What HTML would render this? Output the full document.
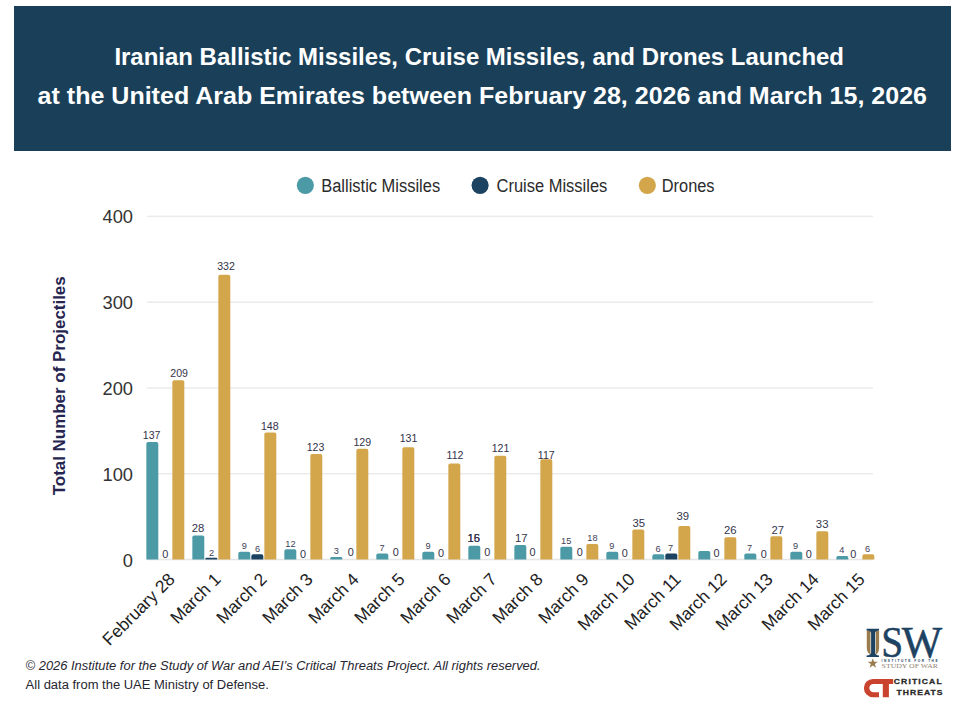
<!DOCTYPE html>
<html><head><meta charset="utf-8">
<style>
html,body{margin:0;padding:0;background:#fff;}
body{width:960px;height:708px;overflow:hidden;position:relative;font-family:"Liberation Sans",sans-serif;}
svg{position:absolute;left:0;top:0;font-family:"Liberation Sans",sans-serif;}
</style></head><body>
<svg width="960" height="708" viewBox="0 0 960 708">
<rect x="14" y="6" width="937" height="145" fill="#1a4059"/>
<text x="114.4" y="65" font-size="23" font-weight="bold" fill="#ffffff" textLength="729.6" lengthAdjust="spacingAndGlyphs">Iranian Ballistic Missiles, Cruise Missiles, and Drones Launched</text>
<text x="37.6" y="104.4" font-size="23" font-weight="bold" fill="#ffffff" textLength="889.4" lengthAdjust="spacingAndGlyphs">at the United Arab Emirates between February 28, 2026 and March 15, 2026</text>
<!-- legend -->
<circle cx="305.35" cy="185.35" r="8.55" fill="#4b9aa6"/>
<text x="321.2" y="192.3" font-size="18" fill="#2b2b2b" textLength="119" lengthAdjust="spacingAndGlyphs">Ballistic Missiles</text>
<circle cx="480.1" cy="185.35" r="8.55" fill="#1b4260"/>
<text x="496.6" y="192.3" font-size="18" fill="#2b2b2b" textLength="110.7" lengthAdjust="spacingAndGlyphs">Cruise Missiles</text>
<circle cx="647.35" cy="185.35" r="8.55" fill="#d4a64c"/>
<text x="661.8" y="192.3" font-size="18" fill="#2b2b2b" textLength="52.7" lengthAdjust="spacingAndGlyphs">Drones</text>
<!-- y title -->
<text transform="translate(64.6,495.3) rotate(-90)" x="0" y="0" font-size="17" font-weight="bold" fill="#25254f" textLength="219" lengthAdjust="spacingAndGlyphs">Total Number of Projectiles</text>
<rect x="147" y="472.97" width="726" height="1.5" fill="#ebebeb"/>
<rect x="147" y="387.19" width="726" height="1.5" fill="#ebebeb"/>
<rect x="147" y="301.41" width="726" height="1.5" fill="#ebebeb"/>
<rect x="147" y="215.63" width="726" height="1.5" fill="#ebebeb"/>
<rect x="147" y="558.75" width="726" height="1.5" fill="#e6e6e6"/>
<text x="133" y="566.50" text-anchor="end" font-size="18.3" fill="#333333">0</text>
<text x="133" y="480.72" text-anchor="end" font-size="18.3" fill="#333333">100</text>
<text x="133" y="394.94" text-anchor="end" font-size="18.3" fill="#333333">200</text>
<text x="133" y="309.16" text-anchor="end" font-size="18.3" fill="#333333">300</text>
<text x="133" y="223.38" text-anchor="end" font-size="18.3" fill="#333333">400</text>
<path d="M146.35,559.50 V443.78 Q146.35,441.98 148.15,441.98 H156.50 Q158.30,441.98 158.30,443.78 V559.50 Z" fill="#4b9aa6"/>

<path d="M172.35,559.50 V382.02 Q172.35,380.22 174.15,380.22 H182.50 Q184.30,380.22 184.30,382.02 V559.50 Z" fill="#d4a64c"/>
<text transform="translate(175.92,580.3) rotate(-45)" text-anchor="end" font-size="17.4" fill="#222222" x="0" y="0">February 28</text>
<path d="M192.35,559.50 V537.28 Q192.35,535.48 194.15,535.48 H202.50 Q204.30,535.48 204.30,537.28 V559.50 Z" fill="#4b9aa6"/>
<path d="M205.35,559.50 V558.64 Q205.35,557.78 206.21,557.78 H216.44 Q217.30,557.78 217.30,558.64 V559.50 Z" fill="#1b4260"/>
<path d="M218.35,559.50 V276.51 Q218.35,274.71 220.15,274.71 H228.50 Q230.30,274.71 230.30,276.51 V559.50 Z" fill="#d4a64c"/>
<text transform="translate(221.92,580.3) rotate(-45)" text-anchor="end" font-size="17.4" fill="#222222" x="0" y="0">March 1</text>
<path d="M238.35,559.50 V553.58 Q238.35,551.78 240.15,551.78 H248.50 Q250.30,551.78 250.30,553.58 V559.50 Z" fill="#4b9aa6"/>
<path d="M251.35,559.50 V556.15 Q251.35,554.35 253.15,554.35 H261.50 Q263.30,554.35 263.30,556.15 V559.50 Z" fill="#1b4260"/>
<path d="M264.35,559.50 V434.35 Q264.35,432.55 266.15,432.55 H274.50 Q276.30,432.55 276.30,434.35 V559.50 Z" fill="#d4a64c"/>
<text transform="translate(267.93,580.3) rotate(-45)" text-anchor="end" font-size="17.4" fill="#222222" x="0" y="0">March 2</text>
<path d="M284.35,559.50 V551.01 Q284.35,549.21 286.15,549.21 H294.50 Q296.30,549.21 296.30,551.01 V559.50 Z" fill="#4b9aa6"/>

<path d="M310.35,559.50 V455.79 Q310.35,453.99 312.15,453.99 H320.50 Q322.30,453.99 322.30,455.79 V559.50 Z" fill="#d4a64c"/>
<text transform="translate(313.93,580.3) rotate(-45)" text-anchor="end" font-size="17.4" fill="#222222" x="0" y="0">March 3</text>
<path d="M330.35,559.50 V558.21 Q330.35,556.93 331.64,556.93 H341.01 Q342.30,556.93 342.30,558.21 V559.50 Z" fill="#4b9aa6"/>

<path d="M356.35,559.50 V450.64 Q356.35,448.84 358.15,448.84 H366.50 Q368.30,448.84 368.30,450.64 V559.50 Z" fill="#d4a64c"/>
<text transform="translate(359.93,580.3) rotate(-45)" text-anchor="end" font-size="17.4" fill="#222222" x="0" y="0">March 4</text>
<path d="M376.35,559.50 V555.30 Q376.35,553.50 378.15,553.50 H386.50 Q388.30,553.50 388.30,555.30 V559.50 Z" fill="#4b9aa6"/>

<path d="M402.35,559.50 V448.93 Q402.35,447.13 404.15,447.13 H412.50 Q414.30,447.13 414.30,448.93 V559.50 Z" fill="#d4a64c"/>
<text transform="translate(405.93,580.3) rotate(-45)" text-anchor="end" font-size="17.4" fill="#222222" x="0" y="0">March 5</text>
<path d="M422.35,559.50 V553.58 Q422.35,551.78 424.15,551.78 H432.50 Q434.30,551.78 434.30,553.58 V559.50 Z" fill="#4b9aa6"/>

<path d="M448.35,559.50 V465.23 Q448.35,463.43 450.15,463.43 H458.50 Q460.30,463.43 460.30,465.23 V559.50 Z" fill="#d4a64c"/>
<text transform="translate(451.93,580.3) rotate(-45)" text-anchor="end" font-size="17.4" fill="#222222" x="0" y="0">March 6</text>
<path d="M468.35,559.50 V547.58 Q468.35,545.78 470.15,545.78 H478.50 Q480.30,545.78 480.30,547.58 V559.50 Z" fill="#4b9aa6"/>

<path d="M494.35,559.50 V457.51 Q494.35,455.71 496.15,455.71 H504.50 Q506.30,455.71 506.30,457.51 V559.50 Z" fill="#d4a64c"/>
<text transform="translate(497.93,580.3) rotate(-45)" text-anchor="end" font-size="17.4" fill="#222222" x="0" y="0">March 7</text>
<path d="M514.35,559.50 V546.72 Q514.35,544.92 516.15,544.92 H524.50 Q526.30,544.92 526.30,546.72 V559.50 Z" fill="#4b9aa6"/>

<path d="M540.35,559.50 V460.94 Q540.35,459.14 542.15,459.14 H550.50 Q552.30,459.14 552.30,460.94 V559.50 Z" fill="#d4a64c"/>
<text transform="translate(543.93,580.3) rotate(-45)" text-anchor="end" font-size="17.4" fill="#222222" x="0" y="0">March 8</text>
<path d="M560.35,559.50 V548.43 Q560.35,546.63 562.15,546.63 H570.50 Q572.30,546.63 572.30,548.43 V559.50 Z" fill="#4b9aa6"/>

<path d="M586.35,559.50 V545.86 Q586.35,544.06 588.15,544.06 H596.50 Q598.30,544.06 598.30,545.86 V559.50 Z" fill="#d4a64c"/>
<text transform="translate(589.93,580.3) rotate(-45)" text-anchor="end" font-size="17.4" fill="#222222" x="0" y="0">March 9</text>
<path d="M606.35,559.50 V553.58 Q606.35,551.78 608.15,551.78 H616.50 Q618.30,551.78 618.30,553.58 V559.50 Z" fill="#4b9aa6"/>

<path d="M632.35,559.50 V531.28 Q632.35,529.48 634.15,529.48 H642.50 Q644.30,529.48 644.30,531.28 V559.50 Z" fill="#d4a64c"/>
<text transform="translate(635.93,580.3) rotate(-45)" text-anchor="end" font-size="17.4" fill="#222222" x="0" y="0">March 10</text>
<path d="M652.35,559.50 V556.15 Q652.35,554.35 654.15,554.35 H662.50 Q664.30,554.35 664.30,556.15 V559.50 Z" fill="#4b9aa6"/>
<path d="M665.35,559.50 V555.30 Q665.35,553.50 667.15,553.50 H675.50 Q677.30,553.50 677.30,555.30 V559.50 Z" fill="#1b4260"/>
<path d="M678.35,559.50 V527.85 Q678.35,526.05 680.15,526.05 H688.50 Q690.30,526.05 690.30,527.85 V559.50 Z" fill="#d4a64c"/>
<text transform="translate(681.93,580.3) rotate(-45)" text-anchor="end" font-size="17.4" fill="#222222" x="0" y="0">March 11</text>
<path d="M698.35,559.50 V552.72 Q698.35,550.92 700.15,550.92 H708.50 Q710.30,550.92 710.30,552.72 V559.50 Z" fill="#4b9aa6"/>

<path d="M724.35,559.50 V539.00 Q724.35,537.20 726.15,537.20 H734.50 Q736.30,537.20 736.30,539.00 V559.50 Z" fill="#d4a64c"/>
<text transform="translate(727.93,580.3) rotate(-45)" text-anchor="end" font-size="17.4" fill="#222222" x="0" y="0">March 12</text>
<path d="M744.35,559.50 V555.30 Q744.35,553.50 746.15,553.50 H754.50 Q756.30,553.50 756.30,555.30 V559.50 Z" fill="#4b9aa6"/>

<path d="M770.35,559.50 V538.14 Q770.35,536.34 772.15,536.34 H780.50 Q782.30,536.34 782.30,538.14 V559.50 Z" fill="#d4a64c"/>
<text transform="translate(773.93,580.3) rotate(-45)" text-anchor="end" font-size="17.4" fill="#222222" x="0" y="0">March 13</text>
<path d="M790.35,559.50 V553.58 Q790.35,551.78 792.15,551.78 H800.50 Q802.30,551.78 802.30,553.58 V559.50 Z" fill="#4b9aa6"/>

<path d="M816.35,559.50 V532.99 Q816.35,531.19 818.15,531.19 H826.50 Q828.30,531.19 828.30,532.99 V559.50 Z" fill="#d4a64c"/>
<text transform="translate(819.93,580.3) rotate(-45)" text-anchor="end" font-size="17.4" fill="#222222" x="0" y="0">March 14</text>
<path d="M836.35,559.50 V557.78 Q836.35,556.07 838.07,556.07 H846.58 Q848.30,556.07 848.30,557.78 V559.50 Z" fill="#4b9aa6"/>

<path d="M862.35,559.50 V556.15 Q862.35,554.35 864.15,554.35 H872.50 Q874.30,554.35 874.30,556.15 V559.50 Z" fill="#d4a64c"/>
<text transform="translate(865.93,580.3) rotate(-45)" text-anchor="end" font-size="17.4" fill="#222222" x="0" y="0">March 15</text>
<text x="151.65" y="438.60" text-anchor="middle" font-size="10.60" fill="#33334a">137</text>
<text x="165.20" y="557.70" text-anchor="middle" font-size="10.90" fill="#33334a">0</text>
<text x="179.15" y="376.80" text-anchor="middle" font-size="10.60" fill="#33334a">209</text>
<text x="198.05" y="532.30" text-anchor="middle" font-size="11.30" fill="#33334a">28</text>
<text x="211.55" y="556.00" text-anchor="middle" font-size="9.20" fill="#3e3e56">2</text>
<text x="226.05" y="270.00" text-anchor="middle" font-size="10.60" fill="#33334a">332</text>
<text x="244.35" y="549.00" text-anchor="middle" font-size="9.20" fill="#3e3e56">9</text>
<text x="257.60" y="551.70" text-anchor="middle" font-size="9.20" fill="#3e3e56">6</text>
<text x="269.80" y="430.30" text-anchor="middle" font-size="10.60" fill="#33334a">148</text>
<text x="290.40" y="546.90" text-anchor="middle" font-size="9.20" fill="#3e3e56">12</text>
<text x="303.00" y="557.60" text-anchor="middle" font-size="10.90" fill="#33334a">0</text>
<text x="315.55" y="450.70" text-anchor="middle" font-size="10.60" fill="#33334a">123</text>
<text x="336.38" y="554.00" text-anchor="middle" font-size="9.20" fill="#3e3e56">3</text>
<text x="350.90" y="556.00" text-anchor="middle" font-size="10.90" fill="#33334a">0</text>
<text x="362.30" y="446.20" text-anchor="middle" font-size="10.60" fill="#33334a">129</text>
<text x="382.10" y="550.60" text-anchor="middle" font-size="9.20" fill="#3e3e56">7</text>
<text x="395.85" y="556.00" text-anchor="middle" font-size="10.90" fill="#33334a">0</text>
<text x="408.50" y="442.10" text-anchor="middle" font-size="10.60" fill="#33334a">131</text>
<text x="427.95" y="548.60" text-anchor="middle" font-size="9.20" fill="#3e3e56">9</text>
<text x="441.05" y="557.00" text-anchor="middle" font-size="10.90" fill="#33334a">0</text>
<text x="455.00" y="458.75" text-anchor="middle" font-size="10.60" fill="#33334a">112</text>
<text x="473.70" y="542.40" text-anchor="middle" font-size="11.30" fill="#33334a">16</text>
<text x="473.70" y="542.40" text-anchor="middle" font-size="11.30" fill="#33334a">15</text>
<text x="487.30" y="556.00" text-anchor="middle" font-size="10.90" fill="#33334a">0</text>
<text x="500.50" y="451.90" text-anchor="middle" font-size="10.60" fill="#33334a">121</text>
<text x="521.30" y="541.70" text-anchor="middle" font-size="11.30" fill="#33334a">17</text>
<text x="532.55" y="555.90" text-anchor="middle" font-size="10.90" fill="#33334a">0</text>
<text x="546.25" y="458.75" text-anchor="middle" font-size="10.60" fill="#33334a">117</text>
<text x="566.20" y="544.10" text-anchor="middle" font-size="9.20" fill="#3e3e56">15</text>
<text x="579.75" y="555.90" text-anchor="middle" font-size="10.90" fill="#33334a">0</text>
<text x="592.40" y="541.40" text-anchor="middle" font-size="9.20" fill="#3e3e56">18</text>
<text x="611.90" y="548.70" text-anchor="middle" font-size="9.20" fill="#3e3e56">9</text>
<text x="624.75" y="557.20" text-anchor="middle" font-size="10.90" fill="#33334a">0</text>
<text x="638.75" y="526.90" text-anchor="middle" font-size="11.30" fill="#33334a">35</text>
<text x="657.95" y="551.70" text-anchor="middle" font-size="9.20" fill="#3e3e56">6</text>
<text x="670.50" y="550.80" text-anchor="middle" font-size="9.20" fill="#3e3e56">7</text>
<text x="682.85" y="519.90" text-anchor="middle" font-size="11.30" fill="#33334a">39</text>
<text x="716.45" y="556.50" text-anchor="middle" font-size="10.90" fill="#33334a">0</text>
<text x="730.25" y="534.10" text-anchor="middle" font-size="11.30" fill="#33334a">26</text>
<text x="749.60" y="550.80" text-anchor="middle" font-size="9.20" fill="#3e3e56">7</text>
<text x="763.75" y="557.70" text-anchor="middle" font-size="10.90" fill="#33334a">0</text>
<text x="777.70" y="534.20" text-anchor="middle" font-size="11.30" fill="#33334a">27</text>
<text x="795.65" y="548.70" text-anchor="middle" font-size="9.20" fill="#3e3e56">9</text>
<text x="808.90" y="557.50" text-anchor="middle" font-size="10.90" fill="#33334a">0</text>
<text x="822.15" y="527.50" text-anchor="middle" font-size="11.30" fill="#33334a">33</text>
<text x="841.85" y="553.30" text-anchor="middle" font-size="9.20" fill="#3e3e56">4</text>
<text x="853.30" y="557.70" text-anchor="middle" font-size="10.90" fill="#33334a">0</text>
<text x="867.65" y="552.00" text-anchor="middle" font-size="9.20" fill="#3e3e56">6</text>
<!-- footer -->
<g id="isw">
<path d="M866.8,630.6 H870.5 V654.6 Q866.8,652.8 866.8,647.5 Z" fill="#9a7d4f"/>
<path d="M879.1,630.6 H875.7 V654.6 Q879.1,652.8 879.1,647.5 Z" fill="#9a7d4f"/>
<path d="M866.6,628.8 H879 V630.6 Q875.2,630.8 875.1,633 V652.6 Q875.2,655.3 879,655.5 V657 H866.6 V655.5 Q871,655.3 871.1,652.6 V633 Q871,630.8 866.6,630.6 Z" fill="#1d4262"/>
<text transform="translate(881.3,657.3) scale(0.91,1)" font-family="Liberation Serif" font-size="43.3" fill="#1d4262" stroke="#1d4262" stroke-width="0.5">S</text>
<text x="901.7" y="657.3" font-family="Liberation Serif" font-size="43.3" fill="#1d4262" stroke="#1d4262" stroke-width="0.5" textLength="40.4" lengthAdjust="spacingAndGlyphs">W</text>
<text x="881.6" y="662.4" font-size="3.2" font-weight="bold" fill="#1d4262" textLength="56" lengthAdjust="spacing">INSTITUTE FOR THE</text>
<text x="881.6" y="667.9" font-family="Liberation Serif" font-size="7.1" fill="#948474" textLength="56.4" lengthAdjust="spacingAndGlyphs">STUDY OF WAR</text>
<path d="M872.8,658.2 L874.05,661.8 L877.9,661.8 L874.8,664.1 L876,667.8 L872.8,665.5 L869.6,667.8 L870.8,664.1 L867.7,661.8 L871.55,661.8 Z" fill="#9a7d4f"/>
</g>
<g id="ct">
<path d="M893.1,678.9 H873 A9.15,9.15 0 0 0 873,697.2 H879 V692.2 H873.5 A4.15,4.15 0 0 1 873.5,683.9 H882.8 V697.2 H888.9 V683.9 H893.1 Z" fill="#c9432f"/>
<text transform="translate(893.8,683.8) scale(1.3,1)" font-size="6.6" font-weight="bold" fill="#2a2a2a" textLength="36.8" lengthAdjust="spacing" stroke="#2a2a2a" stroke-width="0.25">CRITICAL</text>
<text transform="translate(896.6,694.7) scale(1.3,1)" font-size="6.6" font-weight="bold" fill="#2a2a2a" textLength="35.3" lengthAdjust="spacing" stroke="#2a2a2a" stroke-width="0.25">THREATS</text>
</g>
<text x="25.6" y="669.7" font-size="12.5" font-style="italic" fill="#262630" textLength="515" lengthAdjust="spacingAndGlyphs">© 2026 Institute for the Study of War and AEI’s Critical Threats Project. All rights reserved.</text>
<text x="25.6" y="689" font-size="12.5" fill="#262630" textLength="243.2" lengthAdjust="spacingAndGlyphs">All data from the UAE Ministry of Defense.</text>
</svg>
</body></html>
